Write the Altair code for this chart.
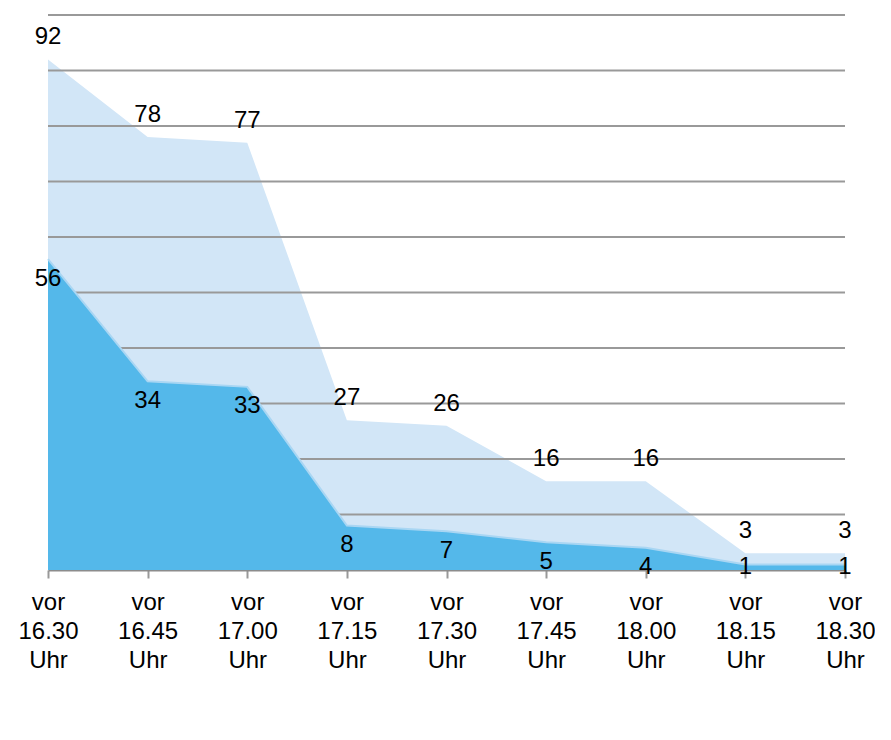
import altair as alt
import pandas as pd

categories = ["vor 16.30 Uhr", "vor 16.45 Uhr", "vor 17.00 Uhr", "vor 17.15 Uhr",
              "vor 17.30 Uhr", "vor 17.45 Uhr", "vor 18.00 Uhr", "vor 18.15 Uhr",
              "vor 18.30 Uhr"]
total_values = [92, 78, 77, 27, 26, 16, 16, 3, 3]
part_values = [56, 34, 33, 8, 7, 5, 4, 1, 1]
grid_values = [10, 20, 30, 40, 50, 60, 70, 80, 90, 100]

FONT = "Liberation Sans"

df_total = pd.DataFrame({"time": categories, "value": total_values})
df_part = pd.DataFrame({"time": categories, "value": part_values})
df_grid = pd.DataFrame({"g": grid_values})

yscale = alt.Scale(domain=[0, 100], nice=False)

x_enc = alt.X(
    "time:N",
    sort=categories,
    scale=alt.Scale(padding=0),
    axis=alt.Axis(
        title=None,
        labelExpr="split(datum.label, ' ')",
        labelAngle=0,
        labelFontSize=24,
        labelFont=FONT,
        labelColor="black",
        labelLineHeight=29,
        labelPadding=12,
        labelOverlap=False,
        tickSize=8,
        tickColor="#999999",
        tickWidth=2,
        domainColor="#8c8c8c",
        domainWidth=2,
        grid=False,
    ),
)

light = alt.Chart(df_total).mark_area(color="#d2e6f7", opacity=1).encode(
    x=x_enc,
    y=alt.Y("value:Q", scale=yscale, axis=None),
)

grid = alt.Chart(df_grid).mark_rule(color="#999999", strokeWidth=2).encode(
    y=alt.Y("g:Q", scale=yscale, axis=None),
)

dark = alt.Chart(df_part).mark_area(color="#54b8ea", opacity=1).encode(
    x=x_enc,
    y=alt.Y("value:Q", scale=yscale, axis=None),
)

dark_line = alt.Chart(df_part).mark_line(color="#a9d6f3", strokeWidth=2).encode(
    x=x_enc,
    y=alt.Y("value:Q", scale=yscale, axis=None),
)

light_text = alt.Chart(df_total).mark_text(
    font=FONT, fontSize=24, color="black", baseline="middle", dy=-22
).encode(
    x=x_enc,
    y=alt.Y("value:Q", scale=yscale, axis=None),
    text=alt.Text("value:Q"),
)

dark_text = alt.Chart(df_part).transform_calculate(
    ly="max(datum.value - 3.5, 0.5)"
).mark_text(
    font=FONT, fontSize=24, color="black", baseline="middle"
).encode(
    x=x_enc,
    y=alt.Y("ly:Q", scale=yscale, axis=None),
    text=alt.Text("value:Q"),
)

chart = alt.layer(light, grid, dark, dark_line, light_text, dark_text).properties(
    width=797,
    height=555,
    autosize=alt.AutoSizeParams(type="none"),
    padding={"left": 40, "top": 7, "right": 30, "bottom": 140},
    background="white",
).configure_view(stroke=None)

chart.save("out.html", embed_options={"renderer": "svg", "actions": False})
